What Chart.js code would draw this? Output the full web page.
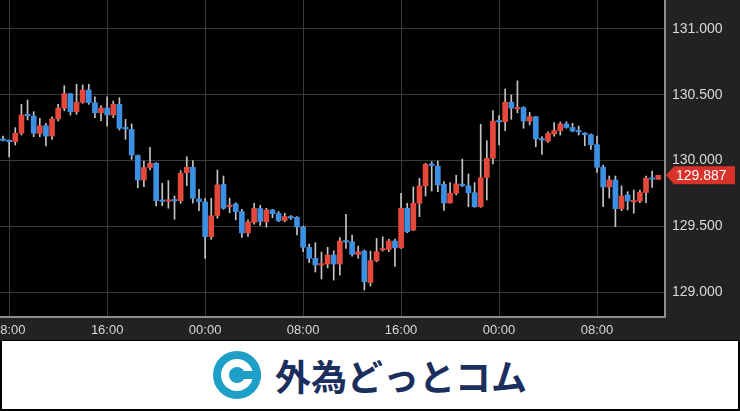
<!DOCTYPE html>
<html>
<head>
<meta charset="utf-8">
<script src="https://cdn.jsdelivr.net/npm/chart.js@4.4.1/dist/chart.umd.min.js"></script>
<style>
    html, body { margin: 0; padding: 0; background: #222; }
    #wrap { position: relative; width: 740px; height: 411px; overflow: hidden; }
    #chart { position: absolute; left: 0; top: 0; }
    #banner {
        position: absolute; left: 0; top: 340px; width: 740px; height: 71px;
        box-sizing: border-box; background: #fff;
        border: 2px solid #000; border-top: 1px solid #000;
        display: flex; align-items: center; justify-content: center;
    }
    #banner span {
        font-family: "Noto Sans CJK JP", sans-serif; font-weight: 600;
        font-size: 36px; color: #1b2f5e; margin-left: 14px;
    }
</style>
</head>
<body>
<div id="wrap">
    <canvas id="chart" width="740" height="340"></canvas>
    <div id="banner">
        <svg width="48" height="48" viewBox="0 0 48 48">
            <circle cx="24" cy="24" r="24" fill="#1d9fc8"/>
            <circle cx="24" cy="24" r="16" fill="#fff"/>
            <circle cx="24" cy="24" r="8" fill="#1d9fc8"/>
            <rect x="24" y="20" width="24" height="8" fill="#1d9fc8"/>
        </svg>
        <span>外為どっとコム</span>
    </div>
</div>
<script>
// 30-minute candles, first one at 07:30
const openP = [130.160, 130.152, 130.143, 130.209, 130.346, 130.338, 130.206, 130.264, 130.186, 130.316,
    130.398, 130.508, 130.371, 130.443, 130.536, 130.440, 130.363, 130.399, 130.346, 130.427,
    130.245, 130.236, 130.038, 129.852, 129.947, 129.979, 129.695, 129.690, 129.698, 129.695,
    129.907, 129.949, 129.708, 129.685, 129.421, 129.582, 129.818, 129.649, 129.670, 129.611,
    129.449, 129.529, 129.635, 129.535, 129.624, 129.597, 129.544, 129.571, 129.568, 129.495,
    129.340, 129.256, 129.205, 129.213, 129.281, 129.213, 129.388, 129.382, 129.286, 129.311,
    129.072, 129.238, 129.319, 129.324, 129.388, 129.336, 129.637, 129.471, 129.675, 129.807,
    129.970, 129.958, 129.819, 129.677, 129.751, 129.819, 129.807, 129.755, 129.649, 129.871,
    130.017, 130.300, 130.295, 130.443, 130.392, 130.402, 130.300, 130.333, 130.164, 130.148,
    130.202, 130.227, 130.278, 130.251, 130.224, 130.209, 130.196, 130.120, 129.949, 129.799,
    129.852, 129.634, 129.738, 129.685, 129.692, 129.757, 129.865, 129.857];
const highP = [130.186, 130.156, 130.250, 130.427, 130.460, 130.371, 130.321, 130.282, 130.333, 130.427,
    130.569, 130.511, 130.580, 130.574, 130.580, 130.485, 130.417, 130.485, 130.452, 130.478,
    130.313, 130.278, 130.042, 129.996, 130.100, 129.984, 129.827, 129.847, 129.730, 129.923,
    130.029, 129.999, 129.781, 129.713, 129.713, 129.928, 129.882, 129.713, 129.679, 129.629,
    129.548, 129.675, 129.659, 129.637, 129.629, 129.611, 129.599, 129.582, 129.573, 129.502,
    129.365, 129.375, 129.304, 129.340, 129.314, 129.413, 129.591, 129.433, 129.349, 129.319,
    129.311, 129.408, 129.420, 129.400, 129.403, 129.751, 129.675, 129.799, 129.865, 129.979,
    129.991, 129.996, 129.839, 129.832, 129.888, 130.011, 129.898, 129.832, 130.275, 130.151,
    130.379, 130.341, 130.544, 130.498, 130.606, 130.409, 130.366, 130.336, 130.181, 130.219,
    130.289, 130.293, 130.295, 130.283, 130.262, 130.211, 130.202, 130.186, 129.966, 129.882,
    129.882, 129.807, 129.763, 129.776, 129.776, 129.882, 129.920, 129.887];
const lowP = [130.148, 130.027, 130.118, 130.194, 130.308, 130.181, 130.181, 130.110, 130.161, 130.300,
    130.379, 130.346, 130.351, 130.435, 130.427, 130.325, 130.303, 130.262, 130.325, 130.232,
    130.161, 130.009, 129.793, 129.801, 129.928, 129.654, 129.656, 129.637, 129.553, 129.675,
    129.809, 129.675, 129.619, 129.256, 129.401, 129.561, 129.629, 129.603, 129.548, 129.416,
    129.423, 129.515, 129.506, 129.494, 129.565, 129.535, 129.535, 129.552, 129.434, 129.306,
    129.223, 129.152, 129.099, 129.183, 129.091, 129.129, 129.332, 129.273, 129.256, 129.015,
    129.046, 129.230, 129.311, 129.306, 129.194, 129.332, 129.451, 129.466, 129.573, 129.730,
    129.768, 129.763, 129.621, 129.675, 129.738, 129.801, 129.649, 129.644, 129.644, 129.700,
    129.974, 130.118, 130.227, 130.313, 130.363, 130.245, 130.270, 130.105, 130.047, 130.138,
    130.186, 130.194, 130.245, 130.219, 130.194, 130.113, 130.085, 129.909, 129.649, 129.715,
    129.497, 129.619, 129.624, 129.599, 129.679, 129.679, 129.795, 129.857];
const closeP = [130.152, 130.143, 130.207, 130.346, 130.340, 130.207, 130.264, 130.186, 130.316, 130.399,
    130.508, 130.371, 130.443, 130.536, 130.440, 130.363, 130.399, 130.346, 130.427, 130.245,
    130.240, 130.042, 129.852, 129.946, 129.979, 129.695, 129.689, 129.698, 129.692, 129.903,
    129.949, 129.713, 129.687, 129.421, 129.580, 129.814, 129.637, 129.656, 129.611, 129.449,
    129.533, 129.635, 129.537, 129.624, 129.596, 129.543, 129.574, 129.563, 129.495, 129.340,
    129.256, 129.205, 129.213, 129.281, 129.213, 129.388, 129.380, 129.286, 129.306, 129.078,
    129.238, 129.306, 129.324, 129.388, 129.336, 129.637, 129.458, 129.675, 129.807, 129.971,
    129.962, 129.814, 129.677, 129.751, 129.822, 129.809, 129.755, 129.649, 129.870, 130.017,
    130.300, 130.293, 130.443, 130.399, 130.399, 130.300, 130.333, 130.164, 130.156, 130.206,
    130.228, 130.278, 130.251, 130.224, 130.218, 130.196, 130.120, 129.949, 129.799, 129.852,
    129.634, 129.730, 129.692, 129.692, 129.757, 129.865, 129.857, 129.887];

// x tick positions are candle indices
const xTickPos = [1, 17, 33, 49, 65, 81, 97];
const xTickLabels = ['08:00', '16:00', '00:00', '08:00', '16:00', '00:00', '08:00'];

const UP = '#e5473b';
const DOWN = '#3c90e4';
const WICK = '#c4c4c4';
const GRID = '#3a3a3a';
const AXIS_FONT = { family: 'Liberation Sans, Arial, sans-serif', size: 13 };

const bodies = openP.map((o, i) => ({ x: i, y: [o, closeP[i]] }));
const wicks = lowP.map((l, i) => ({ x: i, y: [l, highP[i]] }));

// dark frame + black plot area
const backgroundPlugin = {
    id: 'bg',
    beforeDraw(chart) {
        const { ctx, chartArea } = chart;
        ctx.save();
        ctx.fillStyle = '#222';
        ctx.fillRect(0, 0, chart.width, chart.height);
        ctx.fillStyle = '#000';
        ctx.fillRect(chartArea.left, chartArea.top, chartArea.right - chartArea.left, chartArea.bottom - chartArea.top);
        ctx.restore();
    }
};

// red tag with the last price on the right axis
const lastPricePlugin = {
    id: 'lastPrice',
    afterDraw(chart) {
        const { ctx, chartArea } = chart;
        const last = closeP[closeP.length - 1];
        const y = chart.scales.y.getPixelForValue(last);
        const x0 = chartArea.right + 1;
        ctx.save();
        ctx.fillStyle = '#d8332a';
        ctx.beginPath();
        ctx.moveTo(x0, y);
        ctx.lineTo(x0 + 8, y - 9);
        ctx.lineTo(735, y - 9);
        ctx.lineTo(735, y + 9);
        ctx.lineTo(x0 + 8, y + 9);
        ctx.closePath();
        ctx.fill();
        ctx.fillStyle = '#fff';
        ctx.font = '14px Liberation Sans, Arial, sans-serif';
        ctx.textBaseline = 'middle';
        ctx.textAlign = 'left';
        ctx.fillText(last.toFixed(3), x0 + 10, y + 1);
        ctx.restore();
    }
};

new Chart(document.getElementById('chart'), {
    type: 'bar',
    data: {
        datasets: [
            {
                label: 'body',
                data: bodies,
                backgroundColor: ctx => closeP[ctx.dataIndex] >= openP[ctx.dataIndex] ? UP : DOWN,
                barThickness: 5,
                minBarLength: 1.5,
                grouped: false,
                order: 0
            },
            {
                label: 'wick',
                data: wicks,
                backgroundColor: WICK,
                barThickness: 1,
                grouped: false,
                order: 1
            }
        ]
    },
    options: {
        responsive: false,
        animation: false,
        layout: { padding: 0 },
        plugins: {
            legend: { display: false },
            tooltip: { enabled: false }
        },
        scales: {
            x: {
                type: 'linear',
                min: -0.5,
                max: 108.1,
                offset: false,
                afterBuildTicks: s => { s.ticks = xTickPos.map(v => ({ value: v })); },
                afterFit: s => { s.height = 23; s.paddingLeft = 0; s.paddingRight = 0; },
                ticks: {
                    autoSkip: false,
                    maxRotation: 0,
                    color: '#d8d8d8',
                    font: AXIS_FONT,
                    padding: 6,
                    callback: (v, i) => xTickLabels[i]
                },
                grid: { color: GRID, drawTicks: false, offset: false },
                border: { display: true, color: '#8c8c8c', width: 2 }
            },
            y: {
                position: 'right',
                min: 128.810,
                max: 131.2205,
                afterFit: s => { s.width = 75; s.paddingTop = 0; s.paddingBottom = 0; },
                ticks: {
                    stepSize: 0.5,
                    includeBounds: false,
                    color: '#d8d8d8',
                    font: { family: 'Liberation Sans, Arial, sans-serif', size: 14 },
                    padding: 7,
                    callback: v => v.toFixed(3)
                },
                grid: { color: GRID, drawTicks: false },
                border: { display: true, color: '#8c8c8c', width: 2 }
            }
        }
    },
    plugins: [backgroundPlugin, lastPricePlugin]
});
</script>
</body>
</html>
